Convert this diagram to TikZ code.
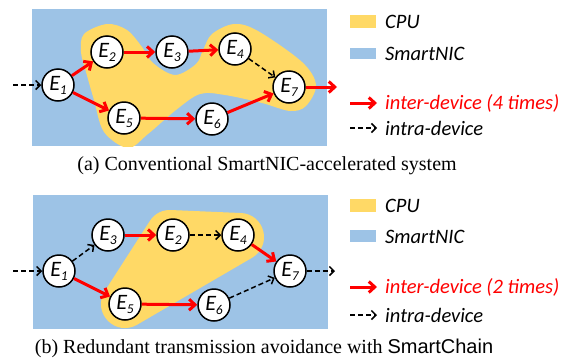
\documentclass[tikz,border=0pt]{standalone}
\usepackage{fontspec}
\setmainfont{Carlito}
\newfontfamily\capserif{Liberation Serif}
\newfontfamily\capsans{Liberation Sans}
\usetikzlibrary{arrows.meta}
\definecolor{ccpu}{HTML}{FFD966}
\definecolor{cnic}{HTML}{9DC3E6}
\definecolor{cinter}{HTML}{FF0000}
\newcommand{\ev}[1]{\textit{E}\kern-0.5pt\raisebox{-4pt}{\fontsize{13.5}{13.5}\selectfont\itshape #1}}

\tikzset{
  elem/.style={circle, draw, line width=1.5pt, fill=white, minimum size=32pt,
               inner sep=0pt, font=\fontsize{22}{22}\selectfont},
  inter/.style={cinter, line width=3pt, -{Straight Barb[length=6pt,width=11pt]}},
  intra/.style={black, line width=1.5pt, dash pattern=on 5pt off 3pt,
                -{Straight Barb[length=4.5pt,width=9pt]}},
  leg/.style={anchor=west, font=\fontsize{20.5}{24}\selectfont\itshape, inner sep=0pt},
  legende/.style={font=\fontsize{20}{22}\selectfont\capserif, inner sep=0pt},
}

\begin{document}
\begin{tikzpicture}[x=1pt, y=-1pt]
  \useasboundingbox (0,0) rectangle (561,362);

  % --- (a) fond SmartNIC et zone CPU ----------------------------------
  \fill[cnic] (32,9) rectangle (327,146);
  \begin{scope}
    \clip (32,9) rectangle (327,146);
    \fill[ccpu] plot[smooth cycle, tension=0.55] coordinates {
      (84,34) (107,24) (127,30) (142,47) (153,63) (175,75) (196,64)
      (203,50) (212,34) (234,24) (258,31) (302,62) (316,85) (306,106)
      (290,111) (262,103) (225,95) (200,94) (176,110) (148,134) (128,148)
      (104,132) (94,100) (86,72) (81,52)};
  \end{scope}

  % --- (a) elements -----------------------------------------------------
  \node[elem] (a1) at (58,85)  {\ev{1}};
  \node[elem] (a2) at (107,52) {\ev{2}};
  \node[elem] (a3) at (172,52) {\ev{3}};
  \node[elem] (a4) at (235,49) {\ev{4}};
  \node[elem] (a5) at (124,118) {\ev{5}};
  \node[elem] (a6) at (212,119) {\ev{6}};
  \node[elem] (a7) at (289,87) {\ev{7}};
  \coordinate (ain) at (13,85);
  \coordinate (aout) at (337,87);

  \draw[intra] (ain) -- (a1);
  \draw[inter] (a1) -- (a2);
  \draw[inter] (a1) -- (a5);
  \draw[inter] (a2) -- (a3);
  \draw[inter] (a3) -- (a4);
  \draw[intra] (a4) -- (a7);
  \draw[inter] (a5) -- (a6);
  \draw[inter] (a6) -- (a7);
  \draw[inter] (a7) -- (aout);

  % --- (a) legende --------------------------------------------------------
  \fill[ccpu] (350,15) rectangle (376,28);
  \node[leg] (acpu) at (385,21.5) {CPU};
  \fill[cnic] (350,48) rectangle (376,59);
  \node[leg] (anic) at (385,53.5) {SmartNIC};
  \coordinate (ar0) at (350,103);
  \coordinate (ar1) at (377,103);
  \draw[inter] (ar0) -- (ar1);
  \node[leg, cinter] (ainter) at (385,103) {inter-device (4 times)};
  \coordinate (ad0) at (350,128);
  \coordinate (ad1) at (377,128);
  \draw[intra] (ad0) -- (ad1);
  \node[leg] (aintra) at (385,128) {intra-device};

  \node[legende] (cap-a) at (267,166) {(a) Conventional SmartNIC-accelerated system};

  % --- (b) fond SmartNIC et zone CPU ----------------------------------
  \fill[cnic] (33,195) rectangle (328,329);
  \begin{scope}
    \clip (33,195) rectangle (328,329);
    \filldraw[ccpu, line width=48pt, line join=round]
      (125,304) -- (170,234) -- (240,237) -- cycle;
  \end{scope}

  % --- (b) elements -----------------------------------------------------
  \node[elem] (b1) at (59,271)  {\ev{1}};
  \node[elem] (b3) at (108,235) {\ev{3}};
  \node[elem] (b2) at (173,235) {\ev{2}};
  \node[elem] (b4) at (238,235) {\ev{4}};
  \node[elem] (b5) at (125,304) {\ev{5}};
  \node[elem] (b6) at (214,305) {\ev{6}};
  \node[elem] (b7) at (290,271) {\ev{7}};
  \coordinate (bin) at (13,271);
  \coordinate (bout) at (335,271);

  \draw[intra] (bin) -- (b1);
  \draw[intra] (b1) -- (b3);
  \draw[inter] (b1) -- (b5);
  \draw[inter] (b3) -- (b2);
  \draw[intra] (b2) -- (b4);
  \draw[inter] (b4) -- (b7);
  \draw[inter] (b5) -- (b6);
  \draw[intra] (b6) -- (b7);
  \draw[intra] (b7) -- (bout);

  % --- (b) legende --------------------------------------------------------
  \fill[ccpu] (350,199) rectangle (376,212);
  \node[leg] (bcpu) at (385,206) {CPU};
  \fill[cnic] (350,230) rectangle (376,242);
  \node[leg] (bnic) at (385,236.5) {SmartNIC};
  \coordinate (br0) at (350,287);
  \coordinate (br1) at (377,287);
  \draw[inter] (br0) -- (br1);
  \node[leg, cinter] (binter) at (385,287) {inter-device (2 times)};
  \coordinate (bd0) at (350,315);
  \coordinate (bd1) at (377,315);
  \draw[intra] (bd0) -- (bd1);
  \node[leg] (bintra) at (385,315) {intra-device};

  \node[legende] (cap-b) at (264,348)
       {(b) Redundant transmission avoidance with {\capsans SmartChain}};
\end{tikzpicture}
\end{document}
